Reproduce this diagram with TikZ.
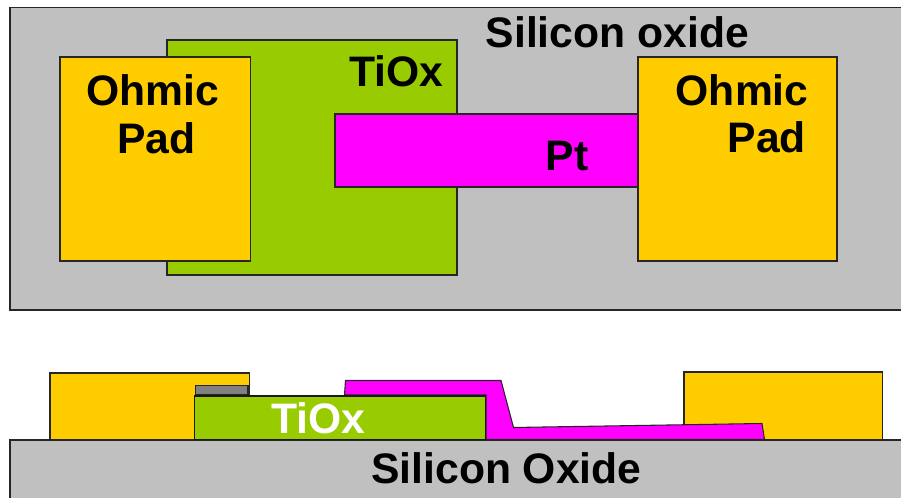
\documentclass[tikz,border=0pt]{standalone}
\usepackage{fontspec}
\setmainfont{Liberation Sans}
\definecolor{oxide}{HTML}{C0C0C0}
\definecolor{tiox}{HTML}{99CC00}
\definecolor{pad}{HTML}{FFCC00}
\definecolor{pt}{HTML}{FF00FF}
\definecolor{cap}{HTML}{808080}
\tikzset{
  layer/.style={draw=black!85,line width=0.8pt,line join=miter},
  thicklayer/.style={draw=black!90,line width=1.3pt,line join=miter},
  lab/.style={inner sep=0pt,anchor=base west,font=\fontsize{32pt}{36pt}\selectfont\bfseries,text=black},
  labw/.style={lab,text=white}
}
\begin{document}
\begin{tikzpicture}[x=0.75pt,y=-0.75pt]
\useasboundingbox (0,0) rectangle (901,498);
\fill[white] (0,0) rectangle (901,498);
% top view
\draw[layer,fill=oxide] (10,7.5) rectangle (903,310);
\draw[layer,fill=tiox] (167,40) rectangle (457,275);
\draw[layer,fill=pt] (335,114) rectangle (638,187);
\draw[layer,fill=pad] (60,57) rectangle (250.5,261);
\draw[layer,fill=pad] (638,57) rectangle (837,261);
\node[lab] (ohmicL) at (86,106) {Ohmic};
\node[lab] (padL) at (117,154) {Pad};
\node[lab] (ohmicR) at (675.5,106) {Ohmic};
\node[lab] (padR) at (727.5,153) {Pad};
\node[lab] (tioxTop) at (349,86.5) {TiOx};
\node[lab] (oxideTop) at (485.5,48) {Silicon oxide};
\node[lab] (ptTop) at (545.5,171) {Pt};
% cross-section
\draw[layer,fill=oxide] (10,440) rectangle (903,502);
\draw[layer,fill=pad] (50,373) rectangle (249.5,440);
\draw[layer,fill=pad] (684,372) rectangle (882.5,440);
\draw[layer,fill=cap] (195.5,385.5) rectangle (248,395);
\draw[layer,fill=pt] (345.5,380.5) -- (501,380.5) -- (513.5,427.5) -- (762,423.5) -- (764.5,439.5) -- (486,439.5) -- (486,395) -- (344.5,395) -- cycle;
\draw[thicklayer,fill=tiox] (194.5,396) -- (485.5,396) -- (485.5,439.5) -- (194.5,439.5) -- cycle;
\node[labw] (tioxBot) at (271,434) {TiOx};
\node[lab] (oxideBot) at (371,484) {Silicon Oxide};
\end{tikzpicture}
\end{document}
